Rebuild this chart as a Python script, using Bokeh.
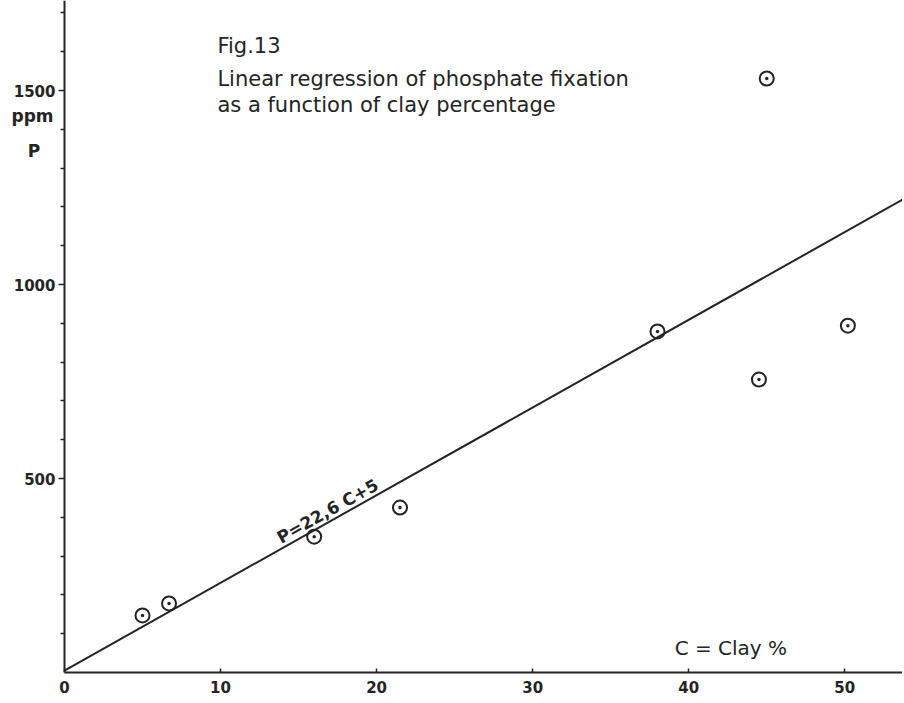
from bokeh.plotting import figure
from bokeh.models import Range1d, FixedTicker, Label, ColumnDataSource
from bokeh.embed import file_html
from bokeh.resources import INLINE

# ---- data ----
clay_pct = [5.0, 6.7, 16.0, 21.5, 38.0, 44.5, 50.2, 45.0]
p_ppm = [147, 178, 350, 425, 879, 755, 894, 1531]
reg_slope = 22.6
reg_intercept = 5
y_major = [500, 1000, 1500]
y_minor = [100, 200, 300, 400, 600, 700, 800, 900, 1100, 1200, 1300, 1400, 1600, 1700]
x_major = [0, 10, 20, 30, 40, 50]

X_MIN, X_MAX = -4.1, 53.7
INK = "#242424"
FONT = "DejaVu Sans"

p = figure(width=902, height=701, output_backend="svg", toolbar_location=None,
           x_range=Range1d(X_MIN, X_MAX), y_range=Range1d(0, 1732),
           min_border_left=0, min_border_bottom=29, min_border_top=0, min_border_right=0)
p.outline_line_color = None
p.xgrid.visible = False
p.ygrid.visible = False
p.background_fill_color = "white"
p.border_fill_color = "white"

# axes
p.yaxis.fixed_location = 0
p.xaxis.bounds = (0, X_MAX)
p.yaxis.ticker = FixedTicker(ticks=y_major, minor_ticks=y_minor)
p.xaxis.ticker = FixedTicker(ticks=x_major, minor_ticks=[])
for ax in (p.xaxis[0], p.yaxis[0]):
    ax.axis_line_color = INK
    ax.axis_line_width = 2
    ax.major_tick_line_color = INK
    ax.major_tick_line_width = 1.5
    ax.minor_tick_line_color = INK
    ax.minor_tick_line_width = 1.5
    ax.major_label_text_font = FONT
    ax.major_label_text_font_size = "15px"
    ax.major_label_text_color = INK
    ax.major_label_text_font_style = "bold"
p.yaxis.major_tick_out = 6
p.yaxis.major_tick_in = 0
p.yaxis.minor_tick_out = 4
p.yaxis.minor_tick_in = 0
p.yaxis.major_label_standoff = 3
p.xaxis.major_tick_in = 4
p.xaxis.major_tick_out = 0
p.xaxis.minor_tick_in = 0
p.xaxis.minor_tick_out = 0
p.xaxis.major_label_standoff = 8

# regression line P = slope*C + intercept over the visible clay range
line_x = [0, X_MAX]
line_y = [reg_slope * c + reg_intercept for c in line_x]
p.line(line_x, line_y, line_color=INK, line_width=2)

# points
src = ColumnDataSource(dict(x=clay_pct, y=p_ppm))
p.scatter("x", "y", source=src, marker="circle_dot", size=14, fill_color=None,
          line_color=INK, line_width=2)

# texts
def lab(x, y, text, size="21px", angle=0.0, align="left", baseline="middle", style="normal"):
    p.add_layout(Label(x=x, y=y, text=text, text_font=FONT, text_font_size=size,
                       text_color=INK, angle=angle, text_align=align,
                       text_baseline=baseline, text_font_style=style))

lab(9.8, 1616, "Fig.13")
lab(9.8, 1530, "Linear regression of phosphate fixation")
lab(9.8, 1463, "as a function of clay percentage")
lab(39.1, 64, "C = Clay %", size="20px")
lab(-2.05, 1434, "ppm", size="17px", align="center", style="bold")
lab(-1.95, 1343, "P", size="17px", align="center", style="bold")
lab(13.7, 345, "P=22,6 C+5", size="17px", angle=0.511, baseline="alphabetic", style="bold")

open("out.html", "w").write(file_html(p, INLINE))
